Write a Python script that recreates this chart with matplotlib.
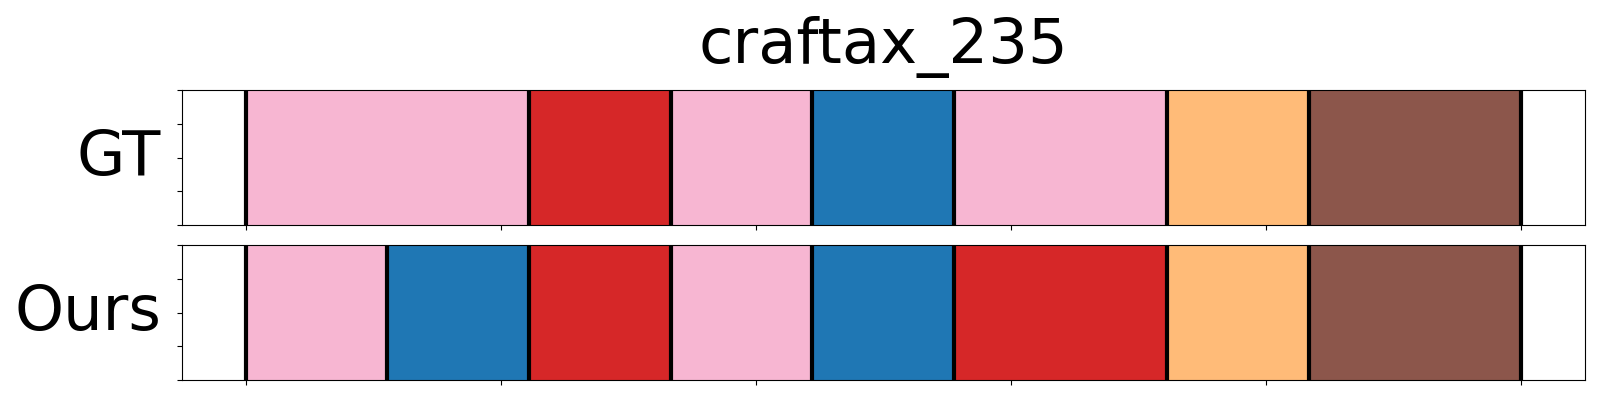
import numpy as np
import matplotlib
matplotlib.use('Agg')
import matplotlib.pyplot as plt

title = 'craftax_235'

# segment boundaries (normalised time) and colours per row
gt_bounds = [0, 4/18, 6/18, 8/18, 10/18, 13/18, 15/18, 1.0]
gt_colors = ['#f7b6d2', '#d62728', '#f7b6d2', '#1f77b4', '#f7b6d2', '#ffbb78', '#8c564b']

ours_bounds = [0, 2/18, 4/18, 6/18, 8/18, 10/18, 13/18, 15/18, 1.0]
ours_colors = ['#f7b6d2', '#1f77b4', '#d62728', '#f7b6d2', '#1f77b4', '#d62728', '#ffbb78', '#8c564b']

row_labels = ['GT', 'Ours']

fig = plt.figure(figsize=(16, 4), dpi=100)
ax_gt = fig.add_axes([0.1136, 0.4375, 0.877, 0.3365])
ax_ours = fig.add_axes([0.1136, 0.05, 0.877, 0.3365])


def draw_row(ax, bounds, colors, label):
    for i, c in enumerate(colors):
        ax.axvspan(bounds[i], bounds[i + 1], color=c)
    for b in bounds:
        ax.axvline(b, color='black', linewidth=3)
    ax.set_xlim(-0.05, 1.05)
    ax.set_ylim(0, 1)
    ax.set_xticks(np.linspace(0, 1, 6))
    ax.set_yticks(np.linspace(0, 1, 5))
    ax.set_xticklabels([])
    ax.set_yticklabels([])
    ax.set_ylabel(label, fontsize=45, rotation=0, ha='right', va='center', labelpad=8)


draw_row(ax_gt, gt_bounds, gt_colors, row_labels[0])
draw_row(ax_ours, ours_bounds, ours_colors, row_labels[1])
ax_gt.set_title(title, fontsize=45, pad=20)

fig.savefig('out.png', dpi=100)
